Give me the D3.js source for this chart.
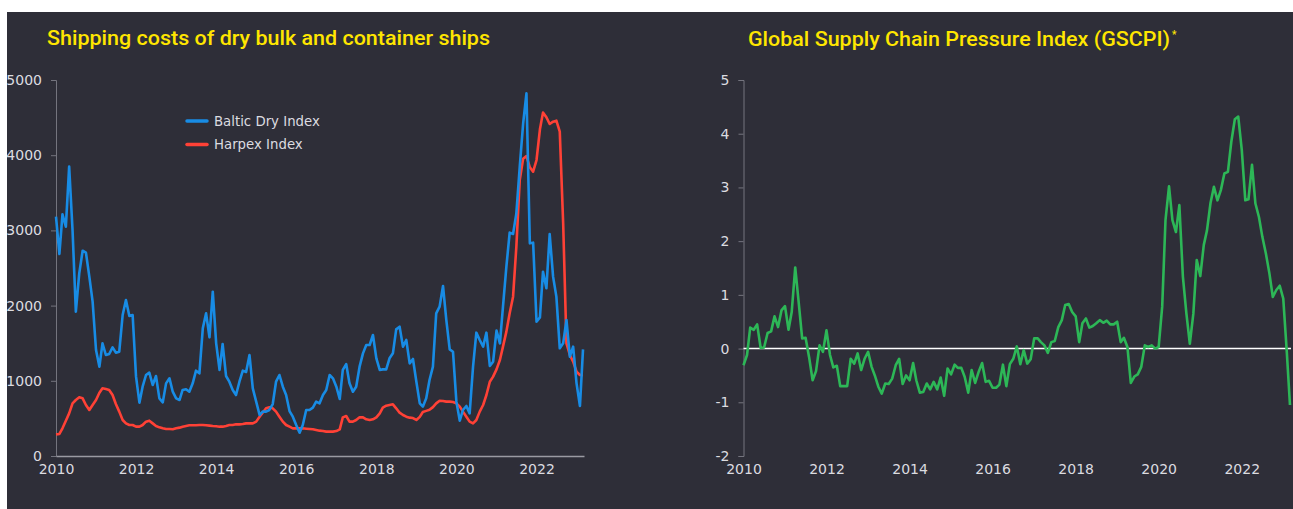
<!DOCTYPE html>
<html>
<head>
<meta charset="utf-8">
<script src="https://cdn.jsdelivr.net/npm/d3@7"></script>
<style>
	body { margin: 0; background: #ffffff; }
	svg { display: block; }
</style>
</head>
<body>
<div id="chart"></div>
<script>

//----------------------------
// Data (monthly, Jan 2010 - Mar 2023)
//----------------------------

var firstMonth = new Date(2010, 0, 1),
	lastMonth = new Date(2023, 2, 1);

var yearTicks = [2010, 2012, 2014, 2016, 2018, 2020, 2022];
var shipTicks = [0, 1000, 2000, 3000, 4000, 5000];
var gscpiTicks = [-2, -1, 0, 1, 2, 3, 4, 5];

var seriesNames = ["Baltic Dry Index", "Harpex Index"];

var bdi = [
	3183, 2686, 3214, 3050, 3848, 3000, 1919, 2429, 2730, 2704, 2385, 2052,
	1410, 1188, 1498, 1343, 1356, 1445, 1374, 1387, 1875, 2074, 1862, 1875,
	1055, 709, 922, 1077, 1108, 944, 1064, 767, 714, 966, 1033, 855,
	767, 745, 878, 887, 855, 966, 1135, 1099, 1698, 1897, 1578, 2185,
	1498, 1144, 1489, 1064, 988, 878, 811, 988, 1135, 1117, 1343, 900,
	723, 545, 590, 590, 612, 691, 988, 1077, 922, 811, 598, 523,
	412, 310, 412, 612, 612, 643, 723, 700, 811, 878, 1077, 1033,
	922, 758, 1144, 1223, 966, 855, 922, 1188, 1365, 1476, 1476, 1609,
	1299, 1144, 1152, 1152, 1299, 1365, 1684, 1720, 1454, 1543, 1232, 1290,
	988, 700, 656, 767, 1011, 1188, 1897, 1986, 2261, 1809, 1418, 1387,
	723, 470, 612, 665, 567, 1188, 1640, 1543, 1454, 1640, 1197, 1254,
	1667, 1498, 1986, 2518, 2970, 2952, 3227, 3848, 4424, 4823, 2828, 2837,
	1786, 1844, 2451, 2230, 2952, 2385, 2119, 1432, 1498, 1809, 1321, 1454,
	966, 665, 1418
];

var harpex = [
	288, 293, 368, 470, 567, 700, 745, 780, 767, 678, 612, 678,
	745, 842, 900, 891, 878, 811, 691, 590, 479, 434, 412, 412,
	390, 390, 412, 457, 470, 434, 399, 381, 368, 359, 359, 355,
	368, 377, 390, 399, 408, 408, 408, 412, 412, 408, 404, 399,
	395, 390, 390, 399, 412, 412, 421, 421, 425, 434, 434, 434,
	457, 523, 576, 634, 647, 634, 590, 523, 457, 412, 390, 368,
	368, 368, 368, 363, 359, 355, 346, 337, 332, 324, 324, 324,
	332, 355, 514, 532, 457, 457, 479, 514, 514, 488, 479, 488,
	514, 567, 643, 669, 678, 687, 634, 576, 545, 523, 510, 505,
	479, 520, 585, 600, 615, 650, 700, 735, 731, 723, 723, 718,
	700, 656, 590, 523, 457, 434, 479, 590, 678, 811, 988, 1055,
	1152, 1277, 1454, 1654, 1897, 2119, 2784, 3670, 3954, 3989, 3839, 3781,
	3936, 4344, 4566, 4504, 4415, 4446, 4459, 4313, 3094, 1498, 1343, 1254,
	1121, 1077, 1077
];

var gscpi = [
	-0.31, -0.12, 0.39, 0.35, 0.45, 0.01, 0.02, 0.29, 0.32, 0.60, 0.40, 0.71,
	0.79, 0.35, 0.68, 1.51, 0.87, 0.19, 0.20, -0.16, -0.59, -0.42, 0.06, -0.06,
	0.34, -0.12, -0.35, -0.32, -0.70, -0.70, -0.70, -0.19, -0.28, -0.09, -0.40, -0.19,
	-0.06, -0.34, -0.50, -0.71, -0.84, -0.65, -0.66, -0.56, -0.31, -0.19, -0.66, -0.50,
	-0.59, -0.27, -0.59, -0.82, -0.81, -0.65, -0.76, -0.62, -0.76, -0.54, -0.88, -0.37,
	-0.48, -0.30, -0.36, -0.36, -0.53, -0.82, -0.40, -0.64, -0.43, -0.27, -0.62, -0.60,
	-0.73, -0.73, -0.67, -0.30, -0.70, -0.29, -0.19, 0.04, -0.29, -0.03, -0.28, -0.20,
	0.19, 0.19, 0.12, 0.06, -0.08, 0.12, 0.14, 0.40, 0.53, 0.81, 0.83, 0.68,
	0.60, 0.12, 0.47, 0.56, 0.39, 0.42, 0.47, 0.53, 0.48, 0.52, 0.45, 0.45,
	0.50, 0.12, 0.20, 0.03, -0.64, -0.52, -0.48, -0.34, 0.06, 0.03, 0.06, 0.00,
	0.03, 0.78, 2.39, 3.02, 2.39, 2.17, 2.67, 1.34, 0.65, 0.09, 0.65, 1.65,
	1.35, 1.93, 2.20, 2.71, 3.01, 2.76, 2.95, 3.26, 3.29, 3.85, 4.27, 4.32,
	3.70, 2.76, 2.78, 3.42, 2.70, 2.45, 2.08, 1.77, 1.40, 0.96, 1.09, 1.17,
	0.93, -0.06, -1.05
];

var months = d3.timeMonth.range(firstMonth, d3.timeMonth.offset(lastMonth, 1));

//----------------------------
// Layout and colours
//----------------------------

var totwidth = 1293,
	totheight = 509,
	bgcol = "#2e2e38",
	titlecol = "#ffe600",
	textcol = "#dcdce0",
	axiscol = "#74747e",
	colbdi = "#188ce5",
	colharpex = "#ff4136",
	colgscpi = "#2db757";

var fontTick = "'DejaVu Sans', Verdana, sans-serif",
	fontTitle = "Roboto, 'Liberation Sans', sans-serif";

var plainInt = function(d) { return String(d); };

var svg = d3.select("#chart").append("svg")
	.attr("width", totwidth)
	.attr("height", totheight);

svg.append("rect")
	.attr("x", 7)
	.attr("y", 12)
	.attr("width", totwidth - 7)
	.attr("height", totheight - 12)
	.attr("fill", bgcol);

var xEnd = new Date(2023, 2, 10);

//----------------------------
// Left panel: shipping costs
//----------------------------

var x1 = d3.scaleTime().domain([firstMonth, xEnd]).range([56, 584]);
var y1 = d3.scaleLinear().domain([0, 5000]).range([456, 80]);

var left = svg.append("g").attr("class", "left");

left.append("text")
	.attr("x", 47)
	.attr("y", 45)
	.attr("fill", titlecol)
	.attr("textLength", 443)
	.attr("lengthAdjust", "spacingAndGlyphs")
	.style("font-family", fontTitle)
	.style("font-weight", 500)
	.style("font-size", "20.5px")
	.text("Shipping costs of dry bulk and container ships");

var yAxis1 = left.append("g")
	.attr("transform", "translate(56,0)")
	.call(d3.axisLeft(y1).tickValues(shipTicks).tickSize(5).tickPadding(9).tickFormat(plainInt));

var xAxis1 = left.append("g")
	.attr("transform", "translate(0,456)")
	.call(d3.axisBottom(x1)
		.tickValues(yearTicks.map(function(d) { return new Date(d, 0, 1); }))
		.tickSize(0).tickPadding(8)
		.tickFormat(d3.timeFormat("%Y")));

xAxis1.select(".domain").attr("stroke", "#9a9aa2").attr("stroke-width", 1.5);

var lineShip = function(vals) {
	return d3.line()
		.x(function(d, i) { return x1(months[i]); })
		.y(function(d) { return y1(d); })(vals);
};

left.append("path")
	.attr("d", lineShip(harpex))
	.attr("fill", "none")
	.attr("stroke", colharpex)
	.attr("stroke-width", 2.6)
	.attr("stroke-linejoin", "round");

left.append("path")
	.attr("d", lineShip(bdi))
	.attr("fill", "none")
	.attr("stroke", colbdi)
	.attr("stroke-width", 2.6)
	.attr("stroke-linejoin", "round");

// Legend

var legend = left.append("g")
	.selectAll("g")
	.data(seriesNames)
	.enter().append("g")
		.attr("transform", function(d, i) { return "translate(187," + (121 + i * 23.5) + ")"; });

legend.append("line")
	.attr("x1", 0).attr("x2", 20)
	.attr("stroke", function(d, i) { return i === 0 ? colbdi : colharpex; })
	.attr("stroke-width", 3.5)
	.attr("stroke-linecap", "round");

legend.append("text")
	.attr("x", 27)
	.attr("y", 4.5)
	.attr("fill", textcol)
	.style("font-family", fontTick)
	.style("font-size", "13.3px")
	.text(function(d) { return d; });

//----------------------------
// Right panel: GSCPI
//----------------------------

var x2 = d3.scaleTime().domain([firstMonth, xEnd]).range([743.5, 1291]);
var y2 = d3.scaleLinear().domain([-2, 5]).range([456, 80]);

var right = svg.append("g").attr("class", "right");

var title2 = right.append("text")
	.attr("x", 748)
	.attr("y", 46)
	.attr("fill", titlecol)
	.style("font-family", fontTitle)
	.style("font-weight", 500)
	.style("font-size", "20.5px");

title2.append("tspan")
	.attr("textLength", 422)
	.attr("lengthAdjust", "spacingAndGlyphs")
	.text("Global Supply Chain Pressure Index (GSCPI)");
title2.append("tspan")
	.attr("dy", -8)
	.attr("dx", 2)
	.style("font-size", "10px")
	.text("*");

var yAxis2 = right.append("g")
	.attr("transform", "translate(743.5,0)")
	.call(d3.axisLeft(y2).tickValues(gscpiTicks).tickSize(5).tickPadding(9).tickFormat(plainInt));

var xAxis2 = right.append("g")
	.attr("transform", "translate(0,456)")
	.call(d3.axisBottom(x2)
		.tickValues(yearTicks.map(function(d) { return new Date(d, 0, 1); }))
		.tickSize(0).tickPadding(8)
		.tickFormat(d3.timeFormat("%Y")));

xAxis2.select(".domain").remove();

right.append("line")
	.attr("x1", x2.range()[0])
	.attr("x2", x2.range()[1])
	.attr("y1", y2(0))
	.attr("y2", y2(0))
	.attr("stroke", "#ffffff")
	.attr("stroke-width", 1.5);

right.append("path")
	.attr("d", d3.line()
		.x(function(d, i) { return x2(months[i]); })
		.y(function(d) { return y2(d); })(gscpi))
	.attr("fill", "none")
	.attr("stroke", colgscpi)
	.attr("stroke-width", 2.6)
	.attr("stroke-linejoin", "round");

// Axis styling shared by both panels

svg.selectAll(".tick text")
	.attr("fill", textcol)
	.style("font-family", fontTick)
	.style("font-size", "14px");

yAxis1.select(".domain").attr("stroke", axiscol);
yAxis2.select(".domain").attr("stroke", axiscol);
svg.selectAll(".tick line").attr("stroke", axiscol);

// White margin strip on the left edge (cuts the 5000 label as in the source)

svg.append("rect")
	.attr("x", 0).attr("y", 0)
	.attr("width", 7).attr("height", totheight)
	.attr("fill", "#ffffff");

</script>
</body>
</html>
